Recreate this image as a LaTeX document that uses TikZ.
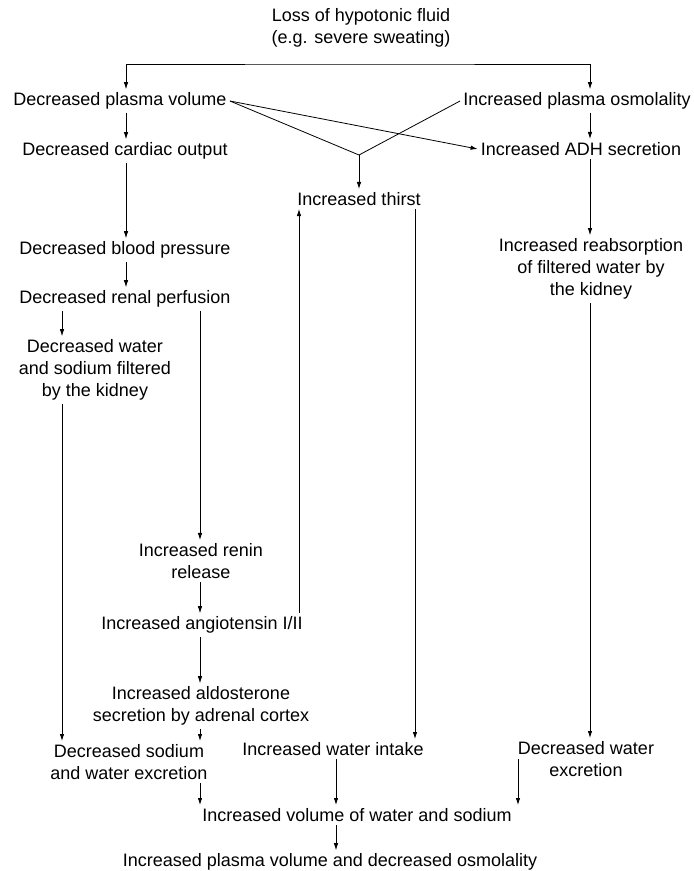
\documentclass[tikz,border=0pt]{standalone}
\usepackage{fontspec}
\setmainfont{Liberation Sans}
\usetikzlibrary{arrows.meta}

\begin{document}
\begin{tikzpicture}[x=1pt,y=-1pt,line width=0.8pt,>={Latex[length=7pt,width=4.5pt]}]

        \useasboundingbox (0,0) rectangle (694,871);

        \begin{scope}[every node/.style={align=center,inner sep=3pt,font=\fontsize{18}{22}\selectfont}]
          \node (loss)   at (361,28)  {Loss of hypotonic fluid\\(e.g. severe sweating)};
          \node (pvol)   at (120,101) {Decreased plasma volume};
          \node (posm)   at (577,101) {Increased plasma osmolality};
          \node (card)   at (125,151) {Decreased cardiac output};
          \node (adh)    at (581,149) {Increased ADH secretion};
          \node (thirst) at (359,199) {Increased thirst};
          \node (bp)     at (125,250) {Decreased blood pressure};
          \node (renal)  at (125,299) {Decreased renal perfusion};
          \node (filt)   at (95,370)  {Decreased water\\and sodium filtered\\by the kidney};
          \node (reab)   at (591,269) {Increased reabsorption\\of filtered water by\\the kidney};
          \node (renin)  at (201,561) {Increased renin\\release};
          \node (ang)    at (202,625) {Increased angiotensin I/II};
          \node (aldo)   at (201,706) {Increased aldosterone\\secretion by adrenal cortex};
          \node (sodexc) at (129,762) {Decreased sodium\\and water excretion};
          \node (intake) at (333,749) {Increased water intake};
          \node (wexc)   at (586,759) {Decreased water\\excretion};
          \node (vol)    at (357,815) {Increased volume of water and sodium};
          \node (final)  at (330,862) {Increased plasma volume and decreased osmolality};
        \end{scope}

        % columns of the vertical arrows
        \coordinate (cA) at (62,0);
        \coordinate (cB) at (126,0);
        \coordinate (cC) at (200,0);
        \coordinate (cD) at (299,0);
        \coordinate (cE) at (336,0);
        \coordinate (cF) at (359,0);
        \coordinate (cG) at (415,0);
        \coordinate (cH) at (518,0);
        \coordinate (cI) at (590,0);
        \coordinate (top)   at (361,64);
        \coordinate (split) at (359,155);

        \draw[<->] (pvol.north -| cB) |- (top) -| (posm.north -| cI);

        \begin{scope}[every edge/.style={draw,->}]
          \path (pvol.south -| cB)   edge (card.north -| cB);
          \path (posm.south -| cI)   edge (adh.north -| cI);
          \path (pvol.east)          edge (adh.west);
          \path (pvol.east)          edge[-] (split);
          \path (posm.west)          edge[-] (split);
          \path (split)              edge (thirst.north -| split);
          \path (card.south -| cB)   edge (bp.north -| cB);
          \path (bp.south -| cB)     edge (renal.north -| cB);
          \path (renal.south -| cA)  edge (filt.north -| cA);
          \path (renal.south -| cC)  edge (renin.north -| cC);
          \path (filt.south -| cA)   edge (sodexc.north -| cA);
          \path (renin.south -| cC)  edge (ang.north -| cC);
          \path (ang.north -| cD)    edge (thirst.south -| cD);
          \path (ang.south -| cC)    edge (aldo.north -| cC);
          \path (aldo.south -| cC)   edge (sodexc.north -| cC);
          \path (sodexc.south -| cC) edge (vol.north -| cC);
          \path (thirst.south -| cG) edge (intake.north -| cG);
          \path (intake.south -| cE) edge (vol.north -| cE);
          \path (adh.south -| cI)    edge (reab.north -| cI);
          \path (reab.south -| cI)   edge (wexc.north -| cI);
          \path (wexc.west -| cH)    edge (vol.north -| cH);
          \path (vol.south -| cE)    edge (final.north -| cE);
        \end{scope}

      \end{tikzpicture}
\end{document}
